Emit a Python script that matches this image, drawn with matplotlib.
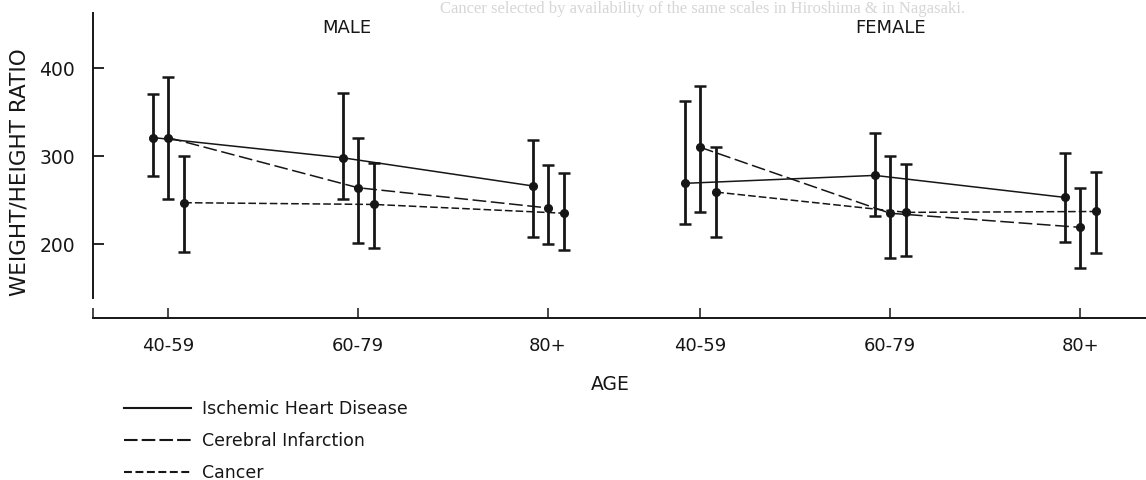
import numpy as np
import matplotlib.pyplot as plt
from matplotlib.lines import Line2D

# ---------------------------------------------------
# 0. Data
# ---------------------------------------------------

ages = ["40-59", "60-79", "80+"]
male_pos = [0.0, 1.0, 2.0]
female_pos = [2.8, 3.8, 4.8]

# Ischemic heart disease
ihd_male = [321, 298, 266]
ihd_male_lo = [277, 251, 208]
ihd_male_hi = [370, 372, 318]
ihd_female = [269, 278, 253]
ihd_female_lo = [223, 232, 202]
ihd_female_hi = [362, 326, 303]

# Cerebral infarction
ci_male = [321, 264, 241]
ci_male_lo = [251, 201, 200]
ci_male_hi = [390, 321, 290]
ci_female = [310, 235, 219]
ci_female_lo = [236, 184, 173]
ci_female_hi = [380, 300, 264]

# Cancer
ca_male = [247, 245, 235]
ca_male_lo = [191, 196, 193]
ca_male_hi = [300, 292, 281]
ca_female = [259, 236, 237]
ca_female_lo = [208, 186, 190]
ca_female_hi = [310, 291, 282]

ink = "#161616"

# ---------------------------------------------------
# 1. Figure
# ---------------------------------------------------

fig = plt.figure(figsize=(11.46, 4.8), dpi=100)
ax = fig.add_axes([93 / 1146, 1 - 318 / 480, 1 - 93 / 1146, (318 - 13) / 480])


def draw(pos, mean, lo, hi, off, ls):
    x = np.array(pos) + off
    mean = np.array(mean)
    yerr = [mean - np.array(lo), np.array(hi) - mean]
    ax.plot(x, mean, color=ink, lw=1.1, linestyle=ls)
    ax.errorbar(x, mean, yerr=yerr, fmt="o", ms=5.5, color=ink,
                elinewidth=2.0, capsize=4, capthick=1.8)


ls_ihd = "-"
ls_ci = (0, (9, 3))
ls_ca = (0, (5, 2))

for pos, grp in [(male_pos, "male"), (female_pos, "female")]:
    d = globals()
    draw(pos, d[f"ihd_{grp}"], d[f"ihd_{grp}_lo"], d[f"ihd_{grp}_hi"], -0.08, ls_ihd)
    draw(pos, d[f"ci_{grp}"], d[f"ci_{grp}_lo"], d[f"ci_{grp}_hi"], 0.0, ls_ci)
    draw(pos, d[f"ca_{grp}"], d[f"ca_{grp}_lo"], d[f"ca_{grp}_hi"], 0.085, ls_ca)

# ---------------------------------------------------
# 2. Axes
# ---------------------------------------------------

ax.set_xlim(-0.395, 5.147)
ax.set_ylim(116, 462.5)

for s in ["top", "right"]:
    ax.spines[s].set_visible(False)
for s in ["left", "bottom"]:
    ax.spines[s].set_linewidth(1.4)
    ax.spines[s].set_color(ink)
ax.spines["left"].set_bounds(139, 462.5)

ax.set_yticks([200, 300, 400])
ax.tick_params(axis="y", direction="in", length=8, width=1.3, pad=13,
               labelsize=13.5, colors=ink)

ax.set_xticks(male_pos + female_pos, labels=ages * 2)
ax.set_xticks([-0.395], minor=True)
ax.tick_params(axis="x", which="both", direction="in", length=7, width=1.1,
               pad=14, labelsize=13, colors=ink)

ax.text(0.94, 445, "MALE", ha="center", va="center", fontsize=13, color=ink)
ax.text(3.8, 445, "FEMALE", ha="center", va="center", fontsize=13, color=ink)

fig.text(610 / 1146, 1 - 384 / 480, "AGE", ha="center", va="center",
         fontsize=13.5, color=ink)
fig.text(20 / 1146, 1 - 172 / 480, "WEIGHT/HEIGHT RATIO", rotation=90,
         ha="center", va="center", fontsize=15.5, color=ink)

# faint show-through from the printed page
fig.text(440 / 1146, 1 - 9 / 480,
         "Cancer selected by availability of the same scales in Hiroshima & in Nagasaki.",
         ha="left", va="center", fontsize=12, family="Liberation Serif",
         color="#d6d6d6")

# ---------------------------------------------------
# 3. Legend
# ---------------------------------------------------

handles = [
    Line2D([], [], color=ink, lw=1.5, linestyle="-"),
    Line2D([], [], color=ink, lw=1.5, linestyle=(0, (6.5, 2))),
    Line2D([], [], color=ink, lw=1.5, linestyle=(0, (3.8, 1.7))),
]
labels = ["Ischemic Heart Disease", "Cerebral Infarction", "Cancer"]
fig.legend(handles, labels, loc="upper left", bbox_to_anchor=(124 / 1146, 1 - 400 / 480),
           frameon=False, borderpad=0, borderaxespad=0, handlelength=3.85,
           handletextpad=0.63, labelspacing=0.8, fontsize=12.5, labelcolor=ink)

fig.savefig("out.png", dpi=100)
